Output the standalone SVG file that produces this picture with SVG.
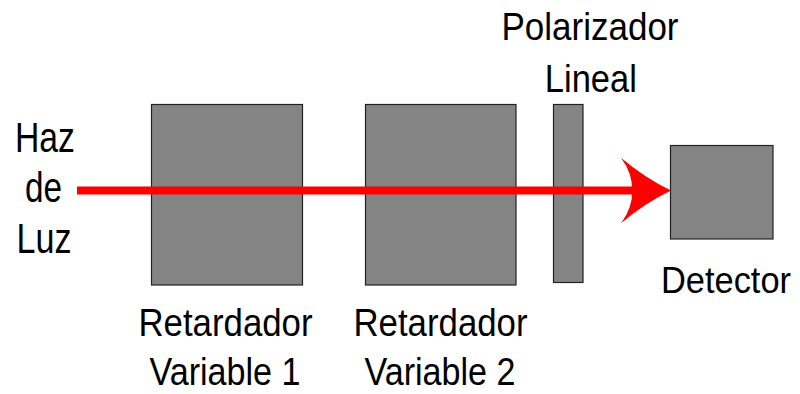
<svg xmlns="http://www.w3.org/2000/svg" width="800" height="394" viewBox="0 0 800 394">
<style>
.box{fill:#848484;stroke:#222;stroke-width:1.2}
.lbl{font-family:"Liberation Sans",Arial,sans-serif;font-size:38px;fill:#000;text-anchor:middle}
.big{font-size:42px}
</style>
<rect width="800" height="394" fill="#fff"/>
<g id="source">
<text class="lbl big" x="45" y="152" textLength="60" lengthAdjust="spacingAndGlyphs">Haz</text>
<text class="lbl big" x="43.5" y="202" textLength="37" lengthAdjust="spacingAndGlyphs">de</text>
<text class="lbl big" x="44" y="253" textLength="55" lengthAdjust="spacingAndGlyphs">Luz</text>
</g>
<g id="retarder1">
<rect class="box" x="151.5" y="104.5" width="151" height="180.5"/>
<text class="lbl" x="225.5" y="336" textLength="174" lengthAdjust="spacingAndGlyphs">Retardador</text>
<text class="lbl" x="225" y="385" textLength="151" lengthAdjust="spacingAndGlyphs">Variable 1</text>
</g>
<g id="retarder2">
<rect class="box" x="365.5" y="104.5" width="150.5" height="180.5"/>
<text class="lbl" x="440.5" y="336" textLength="174" lengthAdjust="spacingAndGlyphs">Retardador</text>
<text class="lbl" x="440" y="385" textLength="151" lengthAdjust="spacingAndGlyphs">Variable 2</text>
</g>
<g id="polarizer">
<rect class="box" x="553.5" y="104.5" width="29.5" height="178"/>
<text class="lbl" x="590" y="39.5" textLength="177" lengthAdjust="spacingAndGlyphs">Polarizador</text>
<text class="lbl" x="590.8" y="91.5" textLength="92" lengthAdjust="spacingAndGlyphs">Lineal</text>
</g>
<g id="detector">
<rect class="box" x="670.5" y="145.5" width="102.5" height="93.5"/>
<text class="lbl" x="726" y="293" font-size="37" style="font-size:37px" textLength="130" lengthAdjust="spacingAndGlyphs">Detector</text>
</g>
<g id="connectors">
<line x1="77" y1="190.5" x2="632" y2="190.5" stroke="#ff0000" stroke-width="8"/>
<path d="M671,190.5 Q645,178 621,157.7 Q633,174 632,190.5 Q633,207 621,223.3 Q645,203 671,190.5 Z" fill="#ff0000"/>
</g>
</svg>
